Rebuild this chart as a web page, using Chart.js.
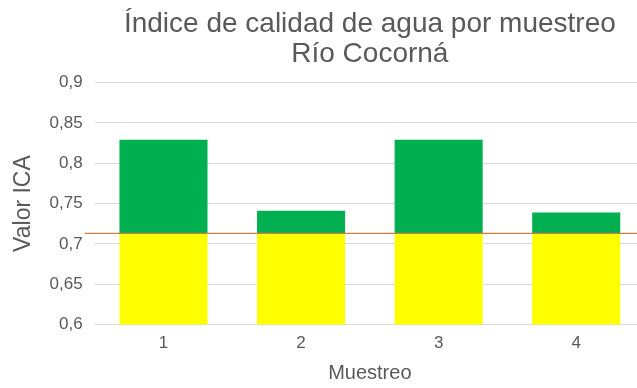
<!DOCTYPE html>
<html>
<head>
<meta charset="utf-8">
<script src="https://cdn.jsdelivr.net/npm/chart.js@4"></script>
<style>
  html, body { margin: 0; padding: 0; background: #fff; overflow: hidden; }
  #wrap { width: 637px; height: 388px; overflow: hidden; }
</style>
</head>
<body>
<div id="wrap"><canvas id="myChart" width="740" height="388"></canvas></div>
<script>
const muestreos = ['1', '2', '3', '4'];
const valorICA = [0.829, 0.741, 0.829, 0.739];
const limiteICA = 0.713;

const gris = '#595959';
const fuente = '"Liberation Sans", Arial, sans-serif';

// yellow part up to the limit, green part from the limit to the ICA value
const data = {
  labels: muestreos,
  datasets: [
    {
      type: 'line',
      label: 'Límite',
      xAxisID: 'x2',
      data: [{x: -0.018, y: limiteICA}, {x: 1.2, y: limiteICA}],
      borderColor: '#D07C45',
      borderWidth: 1.3,
      pointRadius: 0,
      clip: false,
      order: 0
    },
    {
      label: 'Base',
      data: muestreos.map(() => limiteICA),
      backgroundColor: '#FFFF00',
      grouped: false,
      order: 2
    },
    {
      label: 'ICA',
      data: valorICA.map(v => [limiteICA, v]),
      backgroundColor: '#00B050',
      grouped: false,
      order: 1
    }
  ]
};

const config = {
  type: 'bar',
  data: data,
  options: {
    responsive: false,
    animation: false,
    layout: {
      padding: {left: 5, right: 95, top: 0, bottom: 3}
    },
    datasets: {
      bar: {
        categoryPercentage: 1,
        barPercentage: 0.64
      }
    },
    scales: {
      x: {
        grid: {display: false},
        border: {display: false},
        ticks: {color: gris, font: {family: fuente, size: 17}, padding: 1},
        title: {
          display: true,
          text: 'Muestreo',
          color: gris,
          font: {family: fuente, size: 20},
          padding: {top: 6, bottom: 0}
        }
      },
      x2: {
        type: 'linear',
        display: false,
        offset: false,
        min: 0,
        max: 1
      },
      y: {
        min: 0.6,
        max: 0.9,
        grid: {color: '#D9D9D9', drawTicks: false},
        border: {display: false},
        ticks: {
          stepSize: 0.05,
          color: gris,
          font: {family: fuente, size: 17},
          padding: 12,
          callback: v => Number(v.toFixed(2)).toString().replace('.', ',')
        },
        title: {
          display: true,
          text: 'Valor ICA',
          color: gris,
          font: {family: fuente, size: 23},
          padding: {top: 5, bottom: 0}
        }
      }
    },
    plugins: {
      legend: {display: false},
      tooltip: {enabled: false},
      title: {
        display: true,
        fullSize: false,
        text: ['Índice de calidad de agua por muestreo', 'Río Cocorná'],
        color: gris,
        font: {family: fuente, size: 28, weight: 'normal', lineHeight: 1.08},
        padding: {top: 9, bottom: 13}
      }
    }
  }
};

const myChart = new Chart(
  document.getElementById('myChart'),
  config
);
</script>
</body>
</html>
